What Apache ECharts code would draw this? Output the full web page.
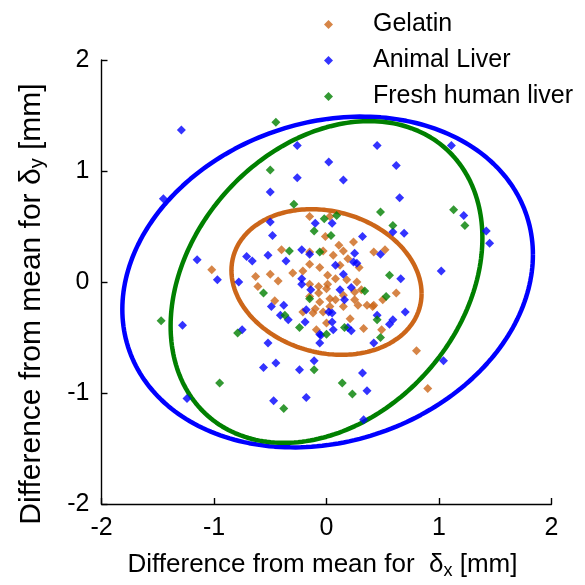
<!DOCTYPE html>
<html>
<head>
<meta charset="utf-8">
<script src="https://cdn.jsdelivr.net/npm/echarts@6/dist/echarts.min.js"></script>
<style>
html,body{margin:0;padding:0;background:#fff;}
#chart{width:585px;height:585px;}
</style>
</head>
<body>
<div id="chart"></div>
<script>
// ---- data ----
const seriesNames = ['Gelatin', 'Animal Liver', 'Fresh human liver'];
const xTicks = [-2, -1, 0, 1, 2];
const yTicks = [-2, -1, 0, 1, 2];

const gelatinPoints = [
  [-1.02,0.11],[-0.63,0.05],[-0.61,-0.04],[-0.50,0.07],[-0.43,0.01],[-0.40,0.29],[-0.30,0.08],[-0.46,-0.17],
  [-0.15,0.59],[0.03,0.59],[-0.01,0.41],[-0.15,0.27],[-0.03,0.28],[0.11,0.33],[0.24,0.36],[0.06,0.24],
  [0.15,0.28],[0.19,0.21],[0.12,0.15],[0.29,0.13],[-0.15,0.16],[-0.21,0.10],[-0.06,0.13],[0.01,0.06],
  [-0.15,-0.02],[-0.07,-0.04],[0.01,-0.02],[0.08,0.03],[0.18,0.02],[0.27,0.00],[0.31,-0.07],[0.25,-0.16],
  [0.36,-0.21],[0.15,-0.12],[0.08,-0.16],[-0.06,-0.18],[-0.15,-0.13],[-0.21,-0.27],[-0.12,-0.28],[-0.03,-0.27],
  [0.03,-0.22],[0.15,-0.22],[0.21,-0.33],[0.33,-0.42],[-0.09,-0.43],[0.00,-0.37],[0.42,-0.21],[0.50,-0.16],
  [0.62,-0.10],[0.49,-0.43],[0.42,0.27],[0.52,0.29],[0.80,-0.62],[0.90,-0.96],[-0.10,-0.24],[0.28,-0.21],
  [-0.07,-0.10],[0.03,-0.15],[0.00,-0.06],[0.25,-0.09],[0.41,-0.22]
];
const animalPoints = [
  [-1.29,1.37],[-0.26,1.23],[0.45,1.23],[0.02,1.08],[0.62,1.05],[-0.26,0.94],[0.15,0.92],[-0.50,0.81],
  [1.11,1.23],[0.65,0.76],[-1.45,0.75],[1.22,0.60],[1.42,0.46],[1.45,0.35],[0.59,0.45],[0.69,0.44],
  [0.32,0.41],[1.02,0.10],[0.66,0.03],[0.48,0.25],[-1.15,0.20],[-0.97,0.02],[-0.78,0.00],[-1.28,-0.39],
  [-0.75,-0.43],[-0.52,-0.55],[-0.06,-0.55],[0.42,-0.55],[1.04,-0.71],[-0.11,-0.71],[-0.45,-0.73],[-0.56,-0.77],
  [-0.24,-0.79],[0.32,-0.82],[0.36,-0.98],[0.33,-1.24],[-0.47,-1.07],[-0.18,-1.04],[-1.24,-1.05],[-0.06,-0.47],
  [0.06,-0.43],[-0.50,0.54],[-0.48,0.42],[-0.10,0.53],[0.05,0.53],[-0.22,0.29],[-0.15,0.25],[-0.71,0.23],
  [-0.66,0.19],[-0.52,0.24],[-0.36,0.19],[-0.22,0.03],[-0.22,-0.02],[-0.14,-0.07],[-0.49,-0.22],[-0.38,-0.21],
  [-0.41,-0.30],[-0.34,-0.34],[-0.18,-0.25],[0.02,-0.27],[-0.19,-0.36],[-0.05,-0.48],[0.05,-0.36],[0.12,-0.07],
  [0.16,-0.16],[0.45,-0.30],[0.70,-0.27],[0.59,-0.34],[0.56,-0.38],[0.05,-0.28],[0.19,-0.41],[0.22,-0.44],
  [0.25,0.26],[0.27,0.17],[0.24,0.18],[0.08,0.15],[0.15,0.07],[0.22,-0.05]
];
const humanPoints = [
  [-0.45,1.44],[-0.50,1.01],[0.48,0.63],[1.13,0.65],[0.59,0.51],[1.23,0.51],[0.56,0.06],[-1.47,-0.35],
  [-0.79,-0.46],[0.48,-0.50],[-0.11,-0.79],[0.14,-0.91],[0.23,-1.01],[-0.95,-0.91],[-0.38,-1.14],[0.00,-0.47],
  [-0.29,0.70],[-0.11,0.46],[-0.02,0.57],[0.09,0.60],[0.04,0.42],[-0.33,0.28],[-0.06,0.27],[-0.56,-0.10],
  [-0.37,-0.30],[-0.15,-0.15],[-0.24,-0.41],[0.34,-0.08],[0.53,-0.13],[0.45,-0.34],[0.16,-0.41]
];

// fitted ellipses: [centerX, centerY, varX, covXY, varY]
const gelatinEllipse = [0.00, 0.00, 0.714, -0.088, 0.430];
const animalEllipse  = [0.01, 0.00, 3.33, 0.45, 2.22];
const humanEllipse   = [0.00, 0.00, 1.92, 0.55, 2.10];

const colors = ['#CC6619', '#0000FF', '#008000'];

function ellipseOutline(p) {
  const [cx, cy, sxx, sxy, syy] = p;
  const a = Math.sqrt(sxx), b = sxy / a, c = Math.sqrt(syy - b * b);
  const out = [];
  const n = 240;
  for (let i = 0; i <= n; i++) {
    const t = 2 * Math.PI * i / n;
    out.push([cx + a * Math.cos(t), cy + b * Math.cos(t) + c * Math.sin(t)]);
  }
  return out;
}

const FONT = 'Liberation Sans';
const chart = echarts.init(document.getElementById('chart'), null, {renderer: 'canvas'});

const axisCommon = {
  min: -2, max: 2, interval: 1,
  axisLine: {show: true, onZero: false, lineStyle: {color: '#000', width: 1.4}},
  axisTick: {show: true, inside: true, length: 6, lineStyle: {color: '#000', width: 1.4}},
  splitLine: {show: false},
  axisLabel: {color: '#000', fontSize: 25, fontFamily: FONT, margin: 12,
    formatter: v => String(v)}
};

const option = {
  backgroundColor: '#fff',
  animation: false,
  grid: {left: 101.5, right: 33.5, top: 60, bottom: 75, containLabel: false},
  legend: {
    data: seriesNames.map((n, i) => ({name: n, icon: 'diamond', itemStyle: {color: colors[i]}})),
    orient: 'vertical',
    left: 319, top: 5,
    itemWidth: 9, itemHeight: 9, itemGap: 7,
    textStyle: {fontSize: 25, fontFamily: FONT, color: '#000', lineHeight: 29, padding: [0, 0, 0, 35]}
  },
  xAxis: Object.assign({}, axisCommon, {
    type: 'value',
    name: 'Difference from mean for  δ{sub|x} [mm]',
    nameLocation: 'middle', nameGap: 46,
    nameTextStyle: {fontSize: 26, fontFamily: FONT, color: '#000', lineHeight: 30, padding: [0, 8, 0, 0],
      rich: {sub: {fontSize: 18, fontFamily: FONT, color: '#000', verticalAlign: 'bottom', lineHeight: 30, padding: [14, 0, 0, 0]}}}
  }),
  yAxis: Object.assign({}, axisCommon, {
    type: 'value',
    name: 'Difference from mean for δ{sub|y} [mm]',
    nameLocation: 'middle', nameGap: 54,
    nameTextStyle: {fontSize: 30, fontFamily: FONT, color: '#000', lineHeight: 32, padding: [0, 44, 0, 0],
      rich: {sub: {fontSize: 20, fontFamily: FONT, color: '#000', verticalAlign: 'bottom', lineHeight: 32, padding: [14, 0, 0, 0]}}}
  }),
  series: [
    {name: 'animalEllipse', type: 'line', data: ellipseOutline(animalEllipse), showSymbol: false, smooth: false,
      lineStyle: {color: colors[1], width: 4.5}, z: 1, silent: true},
    {name: 'humanEllipse', type: 'line', data: ellipseOutline(humanEllipse), showSymbol: false, smooth: false,
      lineStyle: {color: colors[2], width: 4.5}, z: 1, silent: true},
    {name: 'gelatinEllipse', type: 'line', data: ellipseOutline(gelatinEllipse), showSymbol: false, smooth: false,
      lineStyle: {color: colors[0], width: 4.5}, z: 1, silent: true},
    {name: seriesNames[0], type: 'scatter', data: gelatinPoints, symbol: 'diamond', symbolSize: 9,
      itemStyle: {color: colors[0]}, z: 3},
    {name: seriesNames[1], type: 'scatter', data: animalPoints, symbol: 'diamond', symbolSize: 9,
      itemStyle: {color: colors[1]}, z: 3},
    {name: seriesNames[2], type: 'scatter', data: humanPoints, symbol: 'diamond', symbolSize: 9,
      itemStyle: {color: colors[2]}, z: 3}
  ]
};
chart.setOption(option);
</script>
</body>
</html>
